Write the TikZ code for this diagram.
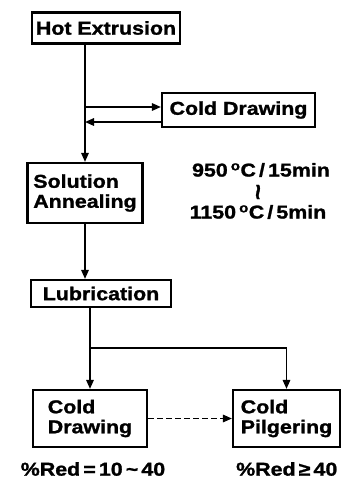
\documentclass[tikz,border=0pt]{standalone}
\usepackage{fontspec}
\newfontfamily\flowfont[FakeStretch=1.15,BoldFeatures={FakeBold=1.3}]{Liberation Sans}
\usetikzlibrary{arrows.meta}
\tikzset{
  box/.style={draw,line width=2.2pt,inner sep=0pt,align=center},
  arr/.style={line width=1.6pt,-{Triangle[length=9pt,width=7.5pt]}},
  lbl/.style={inner sep=0pt}
}
\begin{document}
\begin{tikzpicture}[x=1pt,y=-1pt,font=\flowfont\bfseries\fontsize{18.6}{22}\selectfont]
\useasboundingbox (0,0) rectangle (347,480);
\node[box,minimum width=148pt,minimum height=31pt] (hot) at (106,28) {Hot Extrusion};
\node[box,minimum width=153pt,minimum height=34pt] (cdA) at (238.5,110) {Cold Drawing};
\node[box,minimum width=115pt,minimum height=60pt,align=left] (sa) at (85,193) {Solution\\[-2pt]Annealing};
\node[lbl] (tA) at (261,170) {950\,\textsuperscript{o}C\,/\,15min};
\node[lbl,rotate=90,scale=1.3] (wave) at (261,192) {\textasciitilde};
\node[lbl] (tB) at (258,212) {1150\,\textsuperscript{o}C\,/\,5min};
\node[box,minimum width=140pt,minimum height=27pt] (lub) at (101,293.5) {Lubrication};
\node[box,minimum width=114pt,minimum height=57pt,align=left] (cdB) at (90,418.5) {Cold\\[-2pt]Drawing};
\node[box,minimum width=107pt,minimum height=57pt,align=left] (pil) at (286.5,418.5) {Cold\\[-2pt]Pilgering};
\node[lbl] (redA) at (93,469) {\%Red\,=\,10\,\textasciitilde\,40};
\node[lbl,anchor=west] (redB) at (236,469) {\%Red\,≥\,40};
% hot extrusion to annealing, with the cold drawing loop
\draw[arr] (sa.north |- hot.south) -- (sa.north);
\draw[arr] ([yshift=3pt]cdA.west -| sa.north) -- ([yshift=3pt]cdA.west);
\draw[arr] ([yshift=-12pt]cdA.west) -- ([yshift=-12pt]cdA.west -| sa.north);
\draw[arr] (sa.south) -- (sa.south |- lub.north);
% branch to the two cold working routes
\coordinate (br) at (cdB.north |- 0,348);
\draw[line width=1.6pt] (cdB.north |- lub.south) -- (br);
\draw[arr] (br) -- (cdB.north);
\draw[arr] (br) -| (pil.north);
\draw[arr,dash pattern=on 6pt off 3pt] (cdB.east) -- (pil.west);
\end{tikzpicture}
\end{document}
